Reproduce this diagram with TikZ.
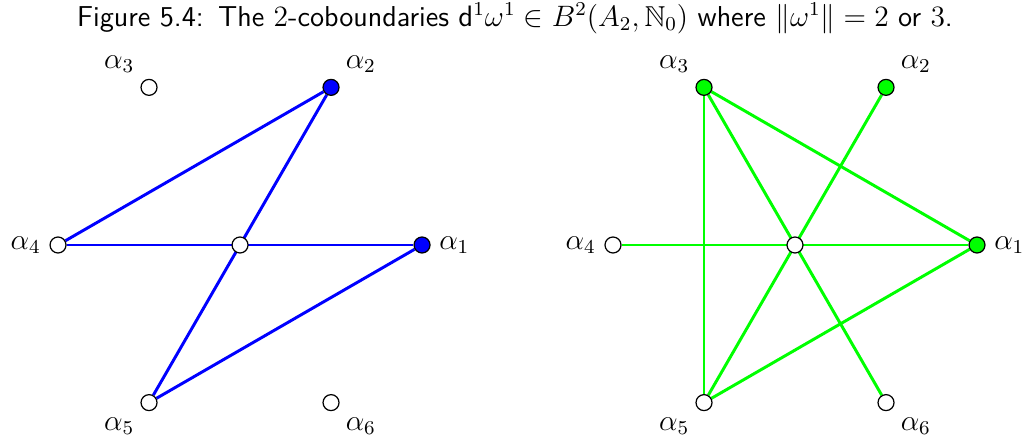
\documentclass[tikz,border=0pt]{standalone}
\usepackage{amsmath,amssymb}
\usetikzlibrary{calc,backgrounds}
\definecolor{edgeblue}{RGB}{0,0,255}
\definecolor{edgegreen}{RGB}{0,255,0}

\begin{document}
\begin{tikzpicture}[
  every label/.style={font=\fontsize{11.7pt}{14pt}\selectfont},
  vtx/.style={circle, draw=black, fill=#1, inner sep=0pt, minimum size=6.5pt, line width=0.5pt, label distance=1pt},
  vtx/.default=white,
  edge/.style={line width=1.2pt, #1}
]
  \useasboundingbox (0,0) rectangle (14.714,6.3);
  \node (title) at (7.357,6.04) {\fontsize{11.7pt}{14pt}\selectfont\sffamily Figure 5.4:\enspace The $2$-coboundaries $\mathsf{d}^1\omega^1\in B^2(A_2,\mathbb{N}_0)$ where $\|\omega^1\|=2$ or $3$.};
  % Left diagram
  \coordinate (lc) at (3.429,2.8);
  \node[vtx] (l0) at (lc) {};
  \foreach \i/\pos/\c in {1/right/edgeblue, 2/above right/edgeblue, 3/above left/white,
                          4/left/white, 5/below left/white, 6/below right/white} {
    \node[vtx=\c, label=\pos:$\alpha_\i$] (l\i) at ($(lc)+({60*(\i-1)}:2.6)$) {};
  }
  \begin{scope}[on background layer]
    \draw[edge=edgeblue] (l4) -- (l2);
    \draw[edge=edgeblue] (l2) -- (l5);
    \draw[edge=edgeblue] (l4) -- (l1);
    \draw[edge=edgeblue] (l5) -- (l1);
  \end{scope}
  % Right diagram
  \coordinate (rc) at (11.357,2.8);
  \node[vtx] (r0) at (rc) {};
  \foreach \i/\pos/\c in {1/right/edgegreen, 2/above right/edgegreen, 3/above left/edgegreen,
                          4/left/white, 5/below left/white, 6/below right/white} {
    \node[vtx=\c, label=\pos:$\alpha_\i$] (r\i) at ($(rc)+({60*(\i-1)}:2.6)$) {};
  }
  \begin{scope}[on background layer]
    \draw[edge=edgegreen] (r3) -- (r1);
    \draw[edge=edgegreen] (r3) -- (r5);
    \draw[edge=edgegreen] (r3) -- (r6);
    \draw[edge=edgegreen] (r2) -- (r5);
    \draw[edge=edgegreen] (r4) -- (r1);
    \draw[edge=edgegreen] (r5) -- (r1);
  \end{scope}
\end{tikzpicture}
\end{document}
